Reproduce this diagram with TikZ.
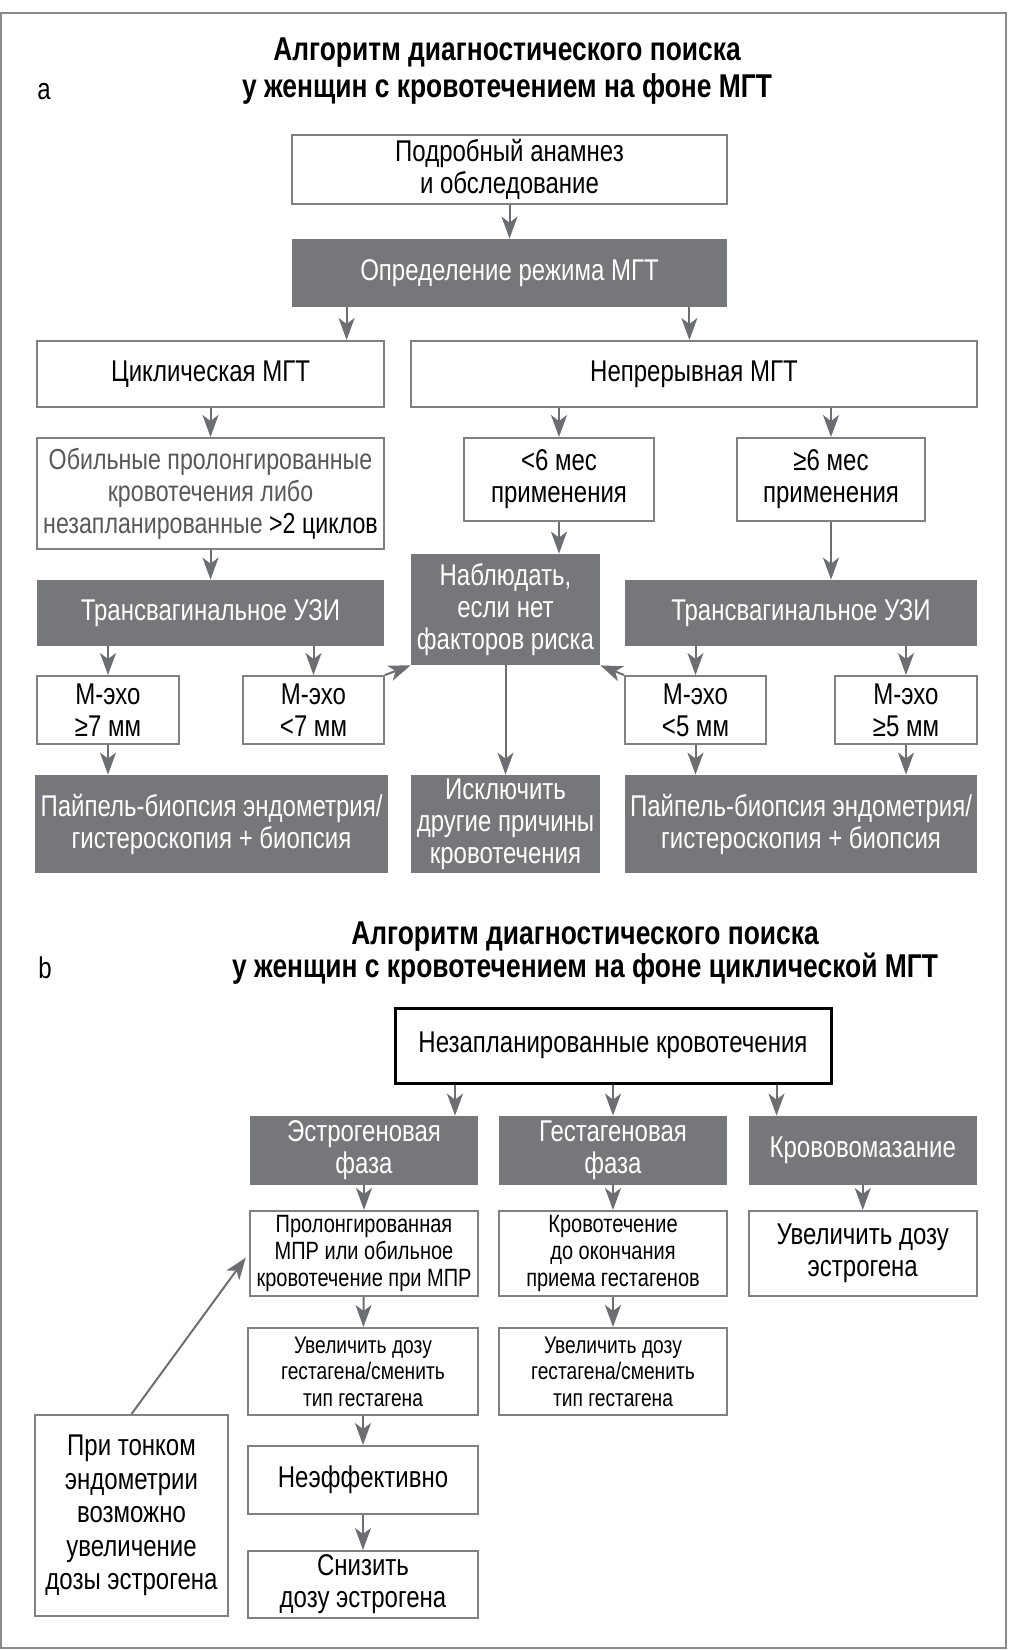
\documentclass[tikz,border=0pt]{standalone}
\usepackage{fontspec}
\setmainfont{Liberation Sans}[FakeStretch=0.8]
\usetikzlibrary{arrows.meta}
\definecolor{darkfill}{HTML}{76777B}
\definecolor{boxline}{HTML}{808083}
\definecolor{arrowcol}{HTML}{6D6E71}
\definecolor{framecol}{HTML}{8A8A8D}
\definecolor{softtext}{HTML}{58595B}

\begin{document}
\begin{tikzpicture}[x=0.5pt,y=-0.5pt,
  whitebox/.style={draw=boxline,line width=1pt,fill=white,align=center,inner sep=0pt,font=\fontsize{15pt}{16pt}\selectfont},
  darkbox/.style={fill=darkfill,text=white,align=center,inner sep=0pt,font=\fontsize{15pt}{16pt}\selectfont},
  smallbox/.style={whitebox,font=\fontsize{12.5pt}{13.3pt}\selectfont},
  arr/.style={draw=arrowcol,line width=1pt,-{Stealth[length=11pt,width=8pt,inset=3pt]}}]
\useasboundingbox (0,0) rectangle (1008,1650);
\draw[framecol,line width=1pt] (1,13) rectangle (1006,1648);

% panel a
\node[font=\fontsize{15pt}{16pt}\selectfont] (labela) at (44,92) {a};
\node[align=center,font=\bfseries\fontsize{16.5pt}{18.5pt}\selectfont] (titlea) at (507,71) {Алгоритм диагностического поиска\\у женщин с кровотечением на фоне МГТ};

\node[style=whitebox,minimum width=217.5pt,minimum height=34.5pt] (anamnez) at (509.5,169.5) {Подробный анамнез\\и обследование};
\node[style=darkbox,minimum width=217.5pt,minimum height=34pt] (regime) at (509.5,273) {Определение режима МГТ};
\node[style=whitebox,minimum width=173.5pt,minimum height=33pt] (cyclic) at (210.5,374) {Циклическая МГТ};
\node[style=whitebox,minimum width=283pt,minimum height=33pt] (contin) at (694,374) {Непрерывная МГТ};
\node[style=whitebox,minimum width=173.5pt,minimum height=55.5pt,text=softtext,font=\fontsize{14.5pt}{16pt}\selectfont] (heavy) at (210.5,493.5) {Обильные пролонгированные\\кровотечения либо\\незапланированные \textcolor{black}{>2 циклов}};
\node[style=whitebox,minimum width=95pt,minimum height=41.5pt] (less6) at (559,479.5) {<6 мес\\применения};
\node[style=whitebox,minimum width=94pt,minimum height=41.5pt] (more6) at (831,479.5) {≥6 мес\\применения};
\node[style=darkbox,minimum width=173.5pt,minimum height=33pt] (tvusL) at (210.5,613) {Трансвагинальное УЗИ};
\node[style=darkbox,minimum width=94.5pt,minimum height=55.5pt] (observe) at (505.5,609.5) {Наблюдать,\\если нет\\факторов риска};
\node[style=darkbox,minimum width=176pt,minimum height=33pt] (tvusR) at (801,613) {Трансвагинальное УЗИ};
\node[style=whitebox,minimum width=71pt,minimum height=34pt] (echo7ge) at (108,710) {М-эхо\\≥7 мм};
\node[style=whitebox,minimum width=70.5pt,minimum height=34pt] (echo7lt) at (313.5,710) {М-эхо\\<7 мм};
\node[style=whitebox,minimum width=70.5pt,minimum height=34pt] (echo5lt) at (695.5,710) {М-эхо\\<5 мм};
\node[style=whitebox,minimum width=71pt,minimum height=34pt] (echo5ge) at (906,710) {М-эхо\\≥5 мм};
\node[style=darkbox,minimum width=176.5pt,minimum height=49pt] (biopsyL) at (211.5,824) {Пайпель-биопсия эндометрия/\\гистероскопия + биопсия};
\node[style=darkbox,minimum width=94.5pt,minimum height=49pt] (exclude) at (505.5,824) {Исключить\\другие причины\\кровотечения};
\node[style=darkbox,minimum width=176pt,minimum height=49pt] (biopsyR) at (801,824) {Пайпель-биопсия эндометрия/\\гистероскопия + биопсия};

\draw[arr] (anamnez) -- (regime);
\draw[arr] ([xshift=27.5pt]regime.south west) -- ([xshift=27.5pt]regime.south west |- cyclic.north);
\draw[arr] ([xshift=-19pt]regime.south east) -- ([xshift=-19pt]regime.south east |- contin.north);
\draw[arr] (cyclic) -- (heavy);
\draw[arr] (less6.north |- contin.south) -- (less6);
\draw[arr] (more6.north |- contin.south) -- (more6);
\draw[arr] (heavy) -- (tvusL);
\draw[arr] (less6.south) -- (less6.south |- observe.north);
\draw[arr] (more6.south) -- (more6.south |- tvusR.north);
\draw[arr] (echo7ge.north |- tvusL.south) -- (echo7ge);
\draw[arr] (echo7lt.north |- tvusL.south) -- (echo7lt);
\draw[arr] (echo5lt.north |- tvusR.south) -- (echo5lt);
\draw[arr] (echo5ge.north |- tvusR.south) -- (echo5ge);
\draw[arr] (echo7lt.north east) -- (observe.south west);
\draw[arr] (echo5lt.north west) -- (observe.south east);
\draw[arr] (observe) -- (exclude);
\draw[arr] (echo7ge) -- (echo7ge |- biopsyL.north);
\draw[arr] (echo5lt) -- (echo5lt |- biopsyR.north);
\draw[arr] (echo5ge) -- (echo5ge |- biopsyR.north);

% panel b
\node[font=\fontsize{15pt}{16pt}\selectfont] (labelb) at (45,968) {b};
\node[align=center,font=\bfseries\fontsize{16.5pt}{16.5pt}\selectfont] (titleb) at (585,953) {Алгоритм диагностического поиска\\у женщин с кровотечением на фоне циклической МГТ};

\node[style=whitebox,draw=black,line width=1.5pt,minimum width=218pt,minimum height=37.5pt] (unplanned) at (613,1045.5) {Незапланированные кровотечения};
\node[style=darkbox,minimum width=114.25pt,minimum height=34.5pt] (estro) at (364,1150.5) {Эстрогеновая\\фаза};
\node[style=darkbox,minimum width=114pt,minimum height=34.5pt] (gesta) at (613,1150.5) {Гестагеновая\\фаза};
\node[style=darkbox,minimum width=114.25pt,minimum height=34.5pt] (smear) at (862.75,1150.5) {Крововомазание};
\node[style=smallbox,minimum width=114.25pt,minimum height=42.5pt] (prolong) at (364,1253.5) {Пролонгированная\\МПР или обильное\\кровотечение при МПР};
\node[style=smallbox,minimum width=114pt,minimum height=42.5pt] (bleedtill) at (613,1253.5) {Кровотечение\\до окончания\\приема гестагенов};
\node[style=whitebox,minimum width=114.25pt,minimum height=42.5pt] (incestro) at (862.75,1253.5) {Увеличить дозу\\эстрогена};
\node[style=smallbox,minimum width=115pt,minimum height=43.5pt,font=\fontsize{12pt}{13.3pt}\selectfont] (incgestL) at (363,1371.5) {Увеличить дозу\\гестагена/сменить\\тип гестагена};
\node[style=smallbox,minimum width=114pt,minimum height=43.5pt,font=\fontsize{12pt}{13.3pt}\selectfont] (incgestR) at (613,1371.5) {Увеличить дозу\\гестагена/сменить\\тип гестагена};
\node[style=whitebox,minimum width=115pt,minimum height=34pt] (ineff) at (363,1480) {Неэффективно};
\node[style=whitebox,minimum width=115pt,minimum height=33.5pt] (reduce) at (363,1584.5) {Снизить\\дозу эстрогена};
\node[style=whitebox,minimum width=96.5pt,minimum height=100.5pt,font=\fontsize{15pt}{16.75pt}\selectfont] (thin) at (131.5,1515.5) {При тонком\\эндометрии\\возможно\\увеличение\\дозы эстрогена};

\draw[arr] ([xshift=30.75pt]unplanned.south west) -- ([xshift=30.75pt]unplanned.south west |- estro.north);
\draw[arr] (unplanned) -- (gesta);
\draw[arr] ([xshift=-28pt]unplanned.south east) -- ([xshift=-28pt]unplanned.south east |- smear.north);
\draw[arr] (estro) -- (prolong);
\draw[arr] (gesta) -- (bleedtill);
\draw[arr] (smear) -- (incestro);
\draw[arr] (prolong) -- (incgestL);
\draw[arr] (bleedtill) -- (incgestR);
\draw[arr] (incgestL) -- (ineff);
\draw[arr] (ineff) -- (reduce);
\draw[arr,shorten >=2.5pt] (thin.north) -- (prolong.west);
\end{tikzpicture}
\end{document}
